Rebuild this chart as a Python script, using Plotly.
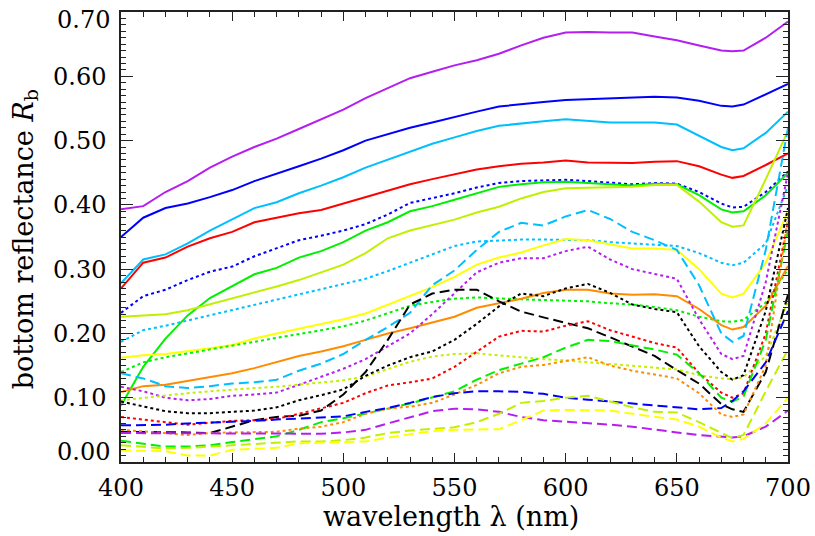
import plotly.graph_objects as go

wavelength = [400, 410, 420, 430, 440, 450, 460, 470, 480, 490, 500, 510, 520, 530, 540, 550,
              560, 570, 580, 590, 600, 610, 620, 630, 640, 650, 660, 670, 675, 680, 690, 700]

purple_solid = [0.393, 0.398, 0.42, 0.437, 0.458, 0.475, 0.49, 0.503, 0.518, 0.533, 0.548, 0.566, 0.582, 0.597, 0.607, 0.617,
                0.625, 0.635, 0.648, 0.66, 0.668, 0.669, 0.668, 0.668, 0.662, 0.656, 0.648, 0.64, 0.639, 0.64, 0.66, 0.685]
blue_solid = [0.35, 0.38, 0.395, 0.402, 0.412, 0.423, 0.437, 0.448, 0.46, 0.472, 0.485, 0.5, 0.51, 0.52, 0.528, 0.537,
              0.545, 0.553, 0.557, 0.56, 0.563, 0.564, 0.565, 0.566, 0.568, 0.567, 0.562, 0.554, 0.553, 0.556, 0.572, 0.588]
cyan_solid = [0.278, 0.315, 0.323, 0.34, 0.36, 0.378, 0.395, 0.404, 0.418, 0.43, 0.443, 0.458, 0.47, 0.483, 0.495, 0.505,
              0.515, 0.523, 0.527, 0.53, 0.533, 0.53, 0.528, 0.528, 0.528, 0.525, 0.507, 0.49, 0.485, 0.488, 0.512, 0.545]
red_solid = [0.27, 0.31, 0.318, 0.335, 0.348, 0.358, 0.373, 0.38, 0.387, 0.392, 0.402, 0.412, 0.423, 0.432, 0.44, 0.447,
             0.455, 0.46, 0.464, 0.466, 0.469, 0.466, 0.465, 0.465, 0.467, 0.468, 0.46, 0.447, 0.442, 0.445, 0.462, 0.48]
blue_dotted = [0.232, 0.258, 0.268, 0.283, 0.296, 0.304, 0.32, 0.333, 0.345, 0.352, 0.36, 0.37, 0.385, 0.403, 0.41, 0.418,
               0.427, 0.434, 0.437, 0.438, 0.439, 0.437, 0.434, 0.432, 0.434, 0.433, 0.42, 0.402, 0.396, 0.397, 0.42, 0.452]
green_solid = [0.088, 0.148, 0.192, 0.228, 0.255, 0.274, 0.292, 0.302, 0.318, 0.328, 0.342, 0.36, 0.373, 0.39, 0.398, 0.408,
               0.418, 0.428, 0.432, 0.435, 0.436, 0.434, 0.432, 0.43, 0.433, 0.432, 0.415, 0.393, 0.388, 0.39, 0.415, 0.45]
chartreuse_solid = [0.226, 0.228, 0.23, 0.236, 0.245, 0.255, 0.264, 0.273, 0.283, 0.295, 0.307, 0.325, 0.348, 0.36, 0.369, 0.377,
                    0.388, 0.397, 0.41, 0.42, 0.426, 0.427, 0.427, 0.428, 0.431, 0.431, 0.405, 0.373, 0.366, 0.368, 0.44, 0.515]
cyan_dotted = [0.187, 0.205, 0.212, 0.22, 0.229, 0.236, 0.244, 0.252, 0.26, 0.268, 0.276, 0.285, 0.297, 0.31, 0.324, 0.336,
               0.343, 0.345, 0.346, 0.346, 0.346, 0.345, 0.342, 0.34, 0.338, 0.336, 0.325, 0.31, 0.306, 0.31, 0.34, 0.43]
yellow_solid = [0.162, 0.166, 0.168, 0.172, 0.177, 0.182, 0.192, 0.2, 0.207, 0.214, 0.222, 0.231, 0.245, 0.259, 0.272, 0.288,
                0.307, 0.318, 0.326, 0.337, 0.347, 0.345, 0.338, 0.332, 0.332, 0.33, 0.3, 0.262, 0.256, 0.262, 0.31, 0.39]
green_dotted = [0.14, 0.155, 0.163, 0.169, 0.175, 0.18, 0.186, 0.192, 0.198, 0.204, 0.211, 0.22, 0.231, 0.243, 0.249, 0.254,
                0.256, 0.254, 0.253, 0.252, 0.251, 0.25, 0.247, 0.245, 0.241, 0.236, 0.226, 0.219, 0.218, 0.221, 0.248, 0.3]
orange_solid = [0.109, 0.118, 0.12, 0.126, 0.133, 0.138, 0.146, 0.155, 0.165, 0.172, 0.18, 0.19, 0.2, 0.208, 0.217, 0.226,
                0.24, 0.247, 0.254, 0.263, 0.268, 0.268, 0.262, 0.26, 0.261, 0.258, 0.238, 0.213, 0.206, 0.21, 0.243, 0.305]
cyan_dashed = [0.138, 0.13, 0.118, 0.115, 0.118, 0.122, 0.124, 0.128, 0.142, 0.153, 0.168, 0.19, 0.21, 0.232, 0.275, 0.298,
               0.33, 0.358, 0.372, 0.368, 0.382, 0.392, 0.378, 0.358, 0.345, 0.33, 0.275, 0.2, 0.187, 0.196, 0.33, 0.52]
purple_dotted = [0.117, 0.11, 0.1, 0.096, 0.098, 0.103, 0.105, 0.108, 0.12, 0.132, 0.145, 0.16, 0.18, 0.2, 0.23, 0.262,
                 0.295, 0.31, 0.317, 0.317, 0.328, 0.335, 0.315, 0.3, 0.292, 0.285, 0.222, 0.168, 0.16, 0.165, 0.28, 0.45]
chartreuse_dotted = [0.096, 0.1, 0.104, 0.107, 0.11, 0.113, 0.115, 0.117, 0.12, 0.123, 0.127, 0.133, 0.145, 0.156, 0.164, 0.168,
                     0.169, 0.166, 0.162, 0.16, 0.158, 0.155, 0.152, 0.149, 0.147, 0.144, 0.135, 0.13, 0.129, 0.132, 0.165, 0.25]
black_dotted = [0.094, 0.086, 0.079, 0.076, 0.076, 0.078, 0.08, 0.085, 0.096, 0.104, 0.113, 0.134, 0.15, 0.163, 0.172, 0.19,
                0.215, 0.242, 0.262, 0.258, 0.27, 0.277, 0.263, 0.245, 0.238, 0.233, 0.18, 0.14, 0.128, 0.135, 0.235, 0.395]
black_dashed = [0.047, 0.047, 0.047, 0.046, 0.045, 0.055, 0.065, 0.07, 0.072, 0.08, 0.105, 0.14, 0.19, 0.245, 0.262, 0.268,
                0.268, 0.25, 0.234, 0.225, 0.216, 0.208, 0.194, 0.18, 0.165, 0.143, 0.122, 0.09, 0.082, 0.078, 0.14, 0.26]
red_dotted = [0.07, 0.066, 0.061, 0.058, 0.061, 0.064, 0.065, 0.067, 0.075, 0.083, 0.092, 0.107, 0.119, 0.124, 0.13, 0.148,
              0.172, 0.195, 0.204, 0.203, 0.212, 0.219, 0.205, 0.195, 0.185, 0.178, 0.138, 0.108, 0.1, 0.107, 0.2, 0.375]
green_dashed = [0.033, 0.028, 0.024, 0.024, 0.026, 0.031, 0.035, 0.04, 0.05, 0.062, 0.068, 0.075, 0.083, 0.091, 0.1, 0.11,
                0.128, 0.143, 0.153, 0.163, 0.178, 0.19, 0.188, 0.182, 0.175, 0.167, 0.138, 0.1, 0.094, 0.102, 0.19, 0.36]
orange_dotted = [0.05, 0.048, 0.045, 0.042, 0.045, 0.046, 0.047, 0.047, 0.052, 0.055, 0.062, 0.075, 0.083, 0.086, 0.092, 0.105,
                 0.12, 0.138, 0.148, 0.151, 0.157, 0.163, 0.15, 0.142, 0.136, 0.13, 0.107, 0.074, 0.07, 0.074, 0.15, 0.38]
blue_dashed = [0.057, 0.057, 0.058, 0.06, 0.061, 0.063, 0.064, 0.066, 0.068, 0.069, 0.071, 0.078, 0.084, 0.092, 0.101, 0.107,
               0.11, 0.11, 0.109, 0.106, 0.1, 0.097, 0.094, 0.09, 0.088, 0.085, 0.082, 0.084, 0.095, 0.11, 0.155, 0.235]
purple_dashed = [0.045, 0.045, 0.044, 0.044, 0.044, 0.044, 0.044, 0.044, 0.044, 0.044, 0.046, 0.05, 0.06, 0.07, 0.079, 0.083,
                 0.082, 0.078, 0.07, 0.065, 0.063, 0.061, 0.058, 0.055, 0.05, 0.046, 0.042, 0.039, 0.038, 0.04, 0.055, 0.08]
chartreuse_dashed = [0.026, 0.024, 0.021, 0.022, 0.024, 0.026, 0.028, 0.03, 0.032, 0.032, 0.034, 0.038, 0.045, 0.049, 0.052, 0.054,
                     0.062, 0.075, 0.092, 0.095, 0.1, 0.103, 0.094, 0.085, 0.078, 0.077, 0.062, 0.045, 0.037, 0.042, 0.11, 0.175]
yellow_dashed = [0.018, 0.018, 0.017, 0.01, 0.01, 0.019, 0.02, 0.022, 0.029, 0.03, 0.03, 0.032, 0.038, 0.043, 0.048, 0.05,
                 0.05, 0.051, 0.065, 0.08, 0.081, 0.081, 0.08, 0.075, 0.07, 0.066, 0.055, 0.038, 0.032, 0.036, 0.06, 0.1]

y_ticks = [0.1, 0.2, 0.3, 0.4, 0.5, 0.6]
y_tick_text = ["0.10", "0.20", "0.30", "0.40", "0.50", "0.60"]
y_end_labels = ["0.00", "0.70"]
x_ticks = [400, 450, 500, 550, 600, 650, 700]

PURPLE = "#b41ef0"
BLUE = "#0000ff"
CYAN = "#00bfff"
RED = "#ff0000"
GREEN = "#00f000"
CHART = "#c0f000"
YELLOW = "#ffff00"
ORANGE = "#ff8c00"
BLACK = "#000000"

DOT = "3px,3px"
DASH = "10px,5px"

series = [
    (purple_solid, PURPLE, "solid"),
    (blue_solid, BLUE, "solid"),
    (cyan_solid, CYAN, "solid"),
    (red_solid, RED, "solid"),
    (blue_dotted, BLUE, DOT),
    (green_solid, GREEN, "solid"),
    (chartreuse_solid, CHART, "solid"),
    (cyan_dotted, CYAN, DOT),
    (yellow_solid, YELLOW, "solid"),
    (green_dotted, GREEN, DOT),
    (orange_solid, ORANGE, "solid"),
    (cyan_dashed, CYAN, DASH),
    (purple_dotted, PURPLE, DOT),
    (chartreuse_dotted, CHART, DOT),
    (black_dotted, BLACK, DOT),
    (black_dashed, BLACK, DASH),
    (red_dotted, RED, DOT),
    (green_dashed, GREEN, DASH),
    (orange_dotted, ORANGE, DOT),
    (blue_dashed, BLUE, DASH),
    (purple_dashed, PURPLE, DASH),
    (chartreuse_dashed, CHART, DASH),
    (yellow_dashed, YELLOW, DASH),
]

fig = go.Figure()
for vals, col, dash in series:
    fig.add_trace(go.Scatter(x=wavelength, y=vals, mode="lines",
                             line=dict(color=col, width=2, dash=dash),
                             showlegend=False, hoverinfo="skip"))

TICKFONT = dict(family="DejaVu Serif", size=24, color="black")

fig.update_layout(
    width=815, height=536,
    margin=dict(l=121, r=27, t=12, b=74, autoexpand=False),
    paper_bgcolor="white", plot_bgcolor="white",
    showlegend=False,
)
fig.update_xaxes(
    range=[400, 700], tickvals=x_ticks, ticks="inside", ticklen=9, tickwidth=1,
    tickcolor="#222", showline=True, linecolor="#222", linewidth=1.5, mirror="allticks",
    showgrid=False, zeroline=False, tickfont=TICKFONT, ticklabelstandoff=3,
    ticklabeloverflow="allow",
    minor=dict(ticks="inside", dtick=10, ticklen=5, tickwidth=1, tickcolor="#222", showgrid=False),
)
fig.update_yaxes(
    range=[0, 0.7], tickvals=y_ticks, ticktext=y_tick_text,
    ticks="inside", ticklen=12, tickwidth=1,
    tickcolor="#222", showline=True, linecolor="#222", linewidth=1.5, mirror="allticks",
    showgrid=False, zeroline=False, tickfont=TICKFONT, ticklabelstandoff=8,
    ticklabeloverflow="allow",
    minor=dict(ticks="inside", dtick=0.01, ticklen=5, tickwidth=1, tickcolor="#222", showgrid=False),
)

annotations = [
    dict(text=y_end_labels[0], xref="paper", yref="y", x=0, y=0.0, xanchor="right", yanchor="middle",
         xshift=-9, yshift=10, showarrow=False, font=TICKFONT),
    dict(text=y_end_labels[1], xref="paper", yref="y", x=0, y=0.7, xanchor="right", yanchor="middle",
         xshift=-9, yshift=-8, showarrow=False, font=TICKFONT),
    dict(text="wavelength λ (nm)", xref="paper", yref="paper", x=0.4955, y=-0.122,
         xanchor="center", yanchor="middle", showarrow=False,
         font=dict(family="DejaVu Serif", size=27, color="black")),
    dict(text="bottom reflectance <i>R</i><sub>b</sub>", xref="paper", yref="paper", x=-0.1439, y=0.495,
         xanchor="center", yanchor="middle", textangle=-90, showarrow=False,
         font=dict(family="DejaVu Serif", size=27, color="black")),
]
fig.update_layout(annotations=annotations)

# remove the page's default 8px body margin so the figure fills the window exactly
fig.write_html("out.html", config={"displayModeBar": False},
               post_script="document.body.style.margin='0';document.body.style.overflow='hidden';")
